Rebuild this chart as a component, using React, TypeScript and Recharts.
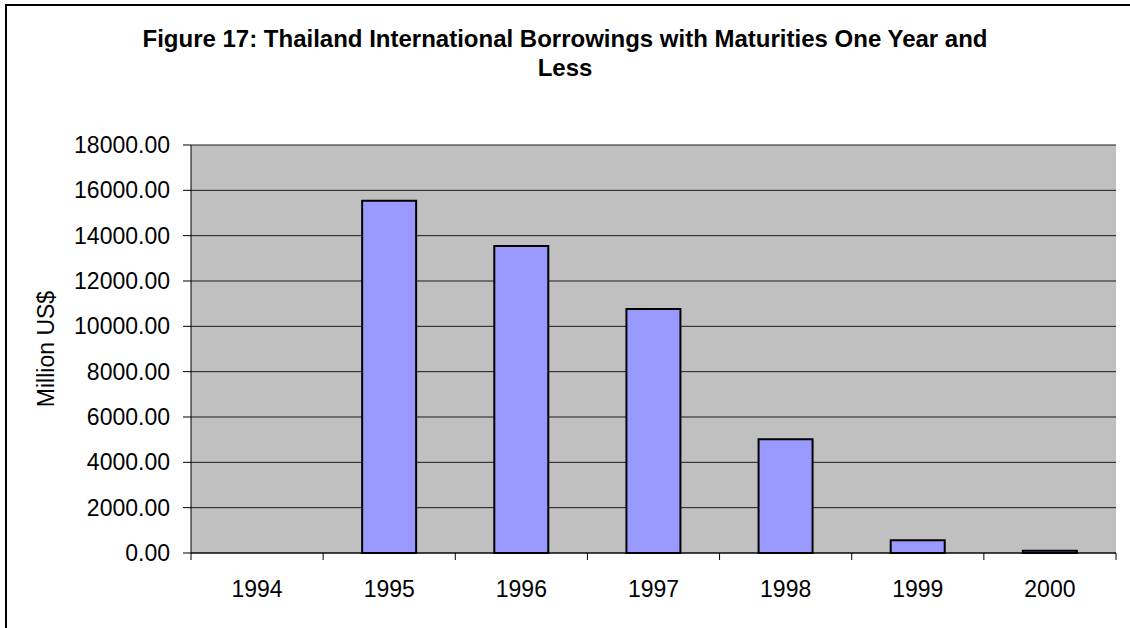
import React from "react";
import {
  BarChart,
  Bar,
  XAxis,
  YAxis,
  CartesianGrid,
} from "recharts";

const years = ["1994", "1995", "1996", "1997", "1998", "1999", "2000"];
const borrowings = [0, 15540, 13540, 10770, 5020, 560, 100];
const yTicks = [0, 2000, 4000, 6000, 8000, 10000, 12000, 14000, 16000, 18000];

const data = years.map((year, i) => ({ year, value: borrowings[i] }));

const FONT = "'Liberation Sans', Arial, Helvetica, sans-serif";

const YearTick = (props: any) => {
  const { x, y, payload, index } = props;
  const half = payload && payload.offset ? payload.offset : 66;
  return (
    <g>
      <line x1={x - half} y1={y} x2={x - half} y2={y + 7} stroke="#000" strokeWidth={1} />
      {index === years.length - 1 && (
        <line x1={x + half} y1={y} x2={x + half} y2={y + 7} stroke="#000" strokeWidth={1} />
      )}
      <text x={x} y={y + 44} textAnchor="middle" fontSize={23} fontFamily={FONT} fill="#000">
        {payload.value}
      </text>
    </g>
  );
};

const App: React.FC = () => {
  return (
    <div
      style={{
        position: "absolute",
        left: 0,
        top: 0,
        width: 1130,
        height: 628,
        overflow: "hidden",
        background: "#fff",
        fontFamily: FONT,
      }}
    >
      <svg
        width={1130}
        height={628}
        style={{ position: "absolute", left: 0, top: 0 }}
      >
        <path d="M6 640 L6 5 L1140 5" fill="none" stroke="#000" strokeWidth={2} />
      </svg>
      <div
        style={{
          position: "absolute",
          left: 0,
          top: 24,
          width: 1130,
          textAlign: "center",
          fontWeight: "bold",
          fontSize: 24,
          lineHeight: "29px",
          color: "#000",
        }}
      >
        Figure 17: Thailand International Borrowings with Maturities One Year and
        <br />
        Less
      </div>
      <div style={{ position: "absolute", left: 0, top: 0 }}>
        <BarChart
          width={1130}
          height={628}
          data={data}
          margin={{ top: 145, right: 14, bottom: 0, left: 0 }}
          barSize={54}
        >
          <CartesianGrid
            vertical={false}
            stroke="#1a1a1a"
            fill="#c0c0c0"
            fillOpacity={1}
          />
          <XAxis
            dataKey="year"
            height={75}
            axisLine={{ stroke: "#000" }}
            tickLine={false}
            tickSize={0}
            tickMargin={0}
            interval={0}
            tick={<YearTick />}
          />
          <YAxis
            domain={[0, 18000]}
            ticks={yTicks}
            interval={0}
            width={191}
            tickSize={8}
            tickMargin={13}
            axisLine={{ stroke: "#000" }}
            tickLine={{ stroke: "#000" }}
            tickFormatter={(v: number) => v.toFixed(2)}
            tick={{ fontSize: 23, fontFamily: FONT, fill: "#000" }}
            label={{
              value: "Million US$",
              angle: -90,
              position: "insideLeft",
              offset: 46,
              style: { fontSize: 23, fontFamily: FONT, fill: "#000", textAnchor: "middle" },
            }}
          />
          <YAxis
            yAxisId="right"
            orientation="right"
            width={0}
            tick={false}
            tickLine={false}
            axisLine={{ stroke: "#808080" }}
          />
          <Bar
            dataKey="value"
            fill="#9999ff"
            stroke="#000"
            strokeWidth={2}
            isAnimationActive={false}
          />
        </BarChart>
      </div>
    </div>
  );
};

export default App;
